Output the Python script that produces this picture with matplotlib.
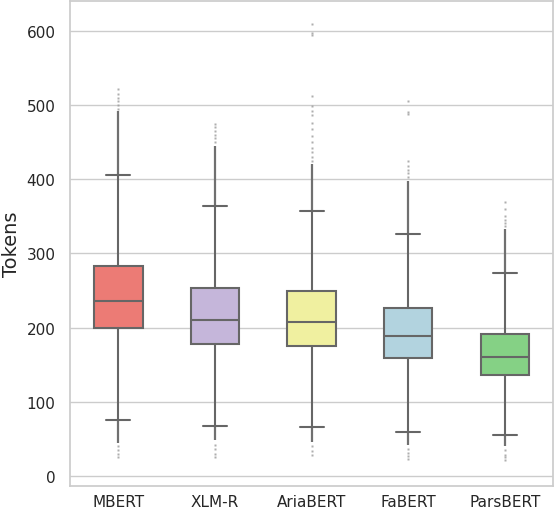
import numpy as np
import matplotlib
matplotlib.use("Agg")
import matplotlib.pyplot as plt
import seaborn as sns

#==# DATA #==#
models = ["MBERT", "XLM-R", "AriaBERT", "FaBERT", "ParsBERT"]
colors = ["#EC7B75", "#C5B6DA", "#F0F0A0", "#B2D3DF", "#85D185"]

q1 = [199.5, 178.5, 175.0, 159.5, 135.7]
med = [235.5, 210.5, 208.0, 189.0, 160.4]
q3 = [282.5, 253.0, 249.0, 226.5, 192.0]
whis_lo = [76.0, 68.0, 66.0, 60.0, 55.0]
whis_hi = [406.0, 363.5, 357.5, 326.0, 274.0]

# outliers packed so tight they read as a line
dense_hi = [492.0, 445.0, 420.0, 398.0, 333.0]
dense_lo = [45.0, 48.0, 46.0, 42.0, 40.0]

# looser outliers
fliers_hi = [
    [495, 500, 505, 510, 515, 522],
    [450, 455, 460, 465, 470, 474],
    [425, 430, 436, 442, 450, 458, 467, 476, 486, 492, 499, 512, 594, 597, 609],
    [403, 408, 413, 418, 425, 488, 491, 505],
    [337, 341, 345, 351, 360, 369],
]
fliers_lo = [
    [40, 35, 30, 25],
    [42, 36, 30, 25],
    [40, 34, 28],
    [37, 31, 27, 23],
    [35, 29, 25, 21],
]

#==# PLOT #==#
sns.set_theme(style="whitegrid")
plt.rcParams['font.family'] = ['DejaVu Sans']

fig = plt.figure(figsize=(5.56, 5.10), dpi=100)
ax = fig.add_axes([0.126, 0.045, 0.869, 0.951])

line_col = "#666666"
stats = []
for i, m in enumerate(models):
    stats.append(dict(label=m, q1=q1[i], med=med[i], q3=q3[i],
                      whislo=whis_lo[i], whishi=whis_hi[i],
                      fliers=np.array(fliers_hi[i] + fliers_lo[i], dtype=float)))

pos = np.arange(len(models))
bp = ax.bxp(stats, positions=pos, widths=0.5, patch_artist=True,
            showfliers=True,
            boxprops=dict(edgecolor=line_col, linewidth=1.5),
            medianprops=dict(color=line_col, linewidth=1.5),
            whiskerprops=dict(color=line_col, linewidth=1.5),
            capprops=dict(color=line_col, linewidth=1.5),
            flierprops=dict(marker="s", markersize=1.6, markerfacecolor="#9a9a9a",
                            markeredgecolor="none", alpha=0.8))
for patch, c in zip(bp["boxes"], colors):
    patch.set_facecolor(c)

# dense outlier runs
ax.vlines(pos, whis_hi, dense_hi, color="#707070", linewidth=1.6, zorder=1.5)
ax.vlines(pos, dense_lo, whis_lo, color="#707070", linewidth=1.6, zorder=1.5)

ax.set_xlim(-0.5, 4.5)
ax.set_ylim(-13.5, 640)
ax.set_yticks(np.arange(0, 601, 100))
ax.set_xticks(pos)
ax.set_xticklabels(models)
ax.grid(axis="x", visible=False)
ax.grid(axis="y", color="#cccccc", linewidth=1.0)
ax.tick_params(axis="both", labelsize=11, length=0, colors="#262626")
ax.tick_params(axis="y", pad=10.5)
ax.tick_params(axis="x", pad=5.5)
ax.set_ylabel("Tokens", fontsize=14, color="#262626", labelpad=4)
for s in ax.spines.values():
    s.set_color("#cccccc")
    s.set_linewidth(1.25)

fig.savefig("out.png", dpi=100)
